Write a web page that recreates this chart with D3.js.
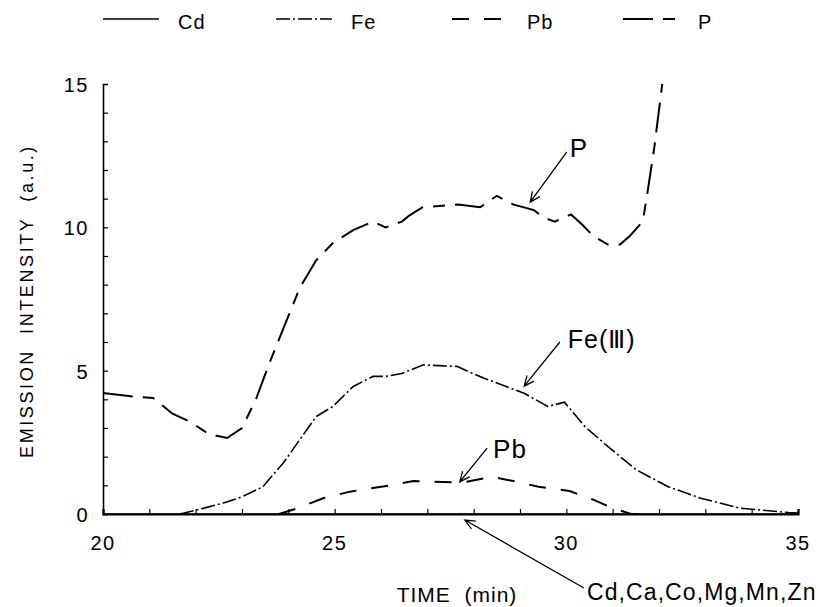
<!DOCTYPE html>
<html>
<head>
    <meta charset="utf-8">
    <script src="https://d3js.org/d3.v7.min.js"></script>
    <style>
        body { margin: 0; background: #fff; }
        text { font-family: "Liberation Sans", Arial, sans-serif; fill: #000; }
    </style>
</head>
<body>
    <div id="chart"></div>
    <script>
        // data
        const pTime  = [20, 20.73, 21.08, 21.5, 21.9, 22.27, 22.68, 23.0, 23.3, 23.6, 23.9, 24.25, 24.6, 24.96, 25.4, 25.83, 26.1, 26.45, 26.6, 26.9, 27.66, 28.14, 28.5, 28.85, 29.3, 29.5, 29.75, 30.1, 30.34, 30.58, 30.9, 31.16, 31.37, 31.65, 31.74, 31.9, 32.07];
        const pValue = [4.22, 4.08, 4.05, 3.5, 3.2, 2.8, 2.65, 3.0, 4.0, 5.3, 6.5, 7.9, 8.85, 9.45, 9.9, 10.2, 10.0, 10.2, 10.4, 10.7, 10.8, 10.7, 11.1, 10.8, 10.6, 10.35, 10.2, 10.45, 10.1, 9.7, 9.4, 9.4, 9.7, 10.2, 11.1, 12.8, 15.0];

        const feTime  = [21.66, 22.1, 22.6, 23.0, 23.45, 23.9, 24.25, 24.6, 24.96, 25.4, 25.83, 26.1, 26.45, 26.9, 27.64, 28.2, 28.7, 29.1, 29.6, 29.96, 30.4, 30.9, 31.5, 32.2, 32.9, 33.76, 34.8, 35];
        const feValue = [0, 0.17, 0.38, 0.6, 0.95, 1.8, 2.6, 3.4, 3.75, 4.45, 4.8, 4.8, 4.9, 5.2, 5.15, 4.75, 4.45, 4.2, 3.75, 3.9, 3.05, 2.35, 1.55, 0.95, 0.55, 0.2, 0.05, 0.03];

        const pbTime  = [23.8, 24.2, 24.75, 25.33, 26.2, 26.7, 27.77, 28.4, 29.0, 29.4, 30.07, 30.58, 31.0, 31.4, 31.8];
        const pbValue = [0, 0.2, 0.55, 0.78, 1.0, 1.15, 1.1, 1.3, 1.1, 0.95, 0.8, 0.5, 0.2, 0.0, 0];

        const cdTime  = [20, 35];
        const cdValue = [0, 0];

        const xTicks = [20, 25, 30, 35];
        const yTicks = [0, 5, 10, 15];

        const legendNames = ["Cd", "Fe", "Pb", "P"];

        // annotation labels with arrow tail/head in data units
        const noteText = ["P", "Fe(\u2162)", "Pb", "Cd,Ca,Co,Mg,Mn,Zn"];
        const noteTail = [[30.01, 12.63], [29.86, 6.0], [28.29, 2.3], [30.38, -2.58]];
        const noteHead = [[29.22, 10.88], [29.09, 4.46], [27.7, 1.12], [27.81, -0.21]];

        const W = 820, H = 607;
        const margin = { top: 84, left: 103, right: 22, bottom: 93 };
        const width = W - margin.left - margin.right, height = H - margin.top - margin.bottom;

        const svg = d3.select("#chart").append("svg")
            .attr("width", W).attr("height", H);
        const g = svg.append("g").attr("transform", `translate(${margin.left},${margin.top})`);

        const x = d3.scaleLinear().domain([20, 35]).range([0, width]);
        const y = d3.scaleLinear().domain([0, 15]).range([height, 0]);

        // line styles
        const styles = {
            Cd: { dash: null, w: 1.6 },
            Fe: { dash: "14,3,2,3", w: 1.6 },
            Pb: { dash: "17,15", w: 2 },
            P:  { dash: "30,10,12,10", w: 2 }
        };

        // axes: inward minor ticks every 1 unit
        const xAxis = g.append("g").attr("transform", `translate(0,${height})`)
            .call(d3.axisBottom(x).tickValues(d3.range(20, 36)).tickSize(-5).tickFormat(""));
        xAxis.select(".domain").attr("stroke-width", 2.2);
        const yAxis = g.append("g")
            .call(d3.axisLeft(y).tickValues(d3.range(0, 16)).tickSize(-5).tickFormat(""));
        yAxis.select(".domain").attr("stroke-width", 1.6);
        g.selectAll(".tick line").attr("stroke-width", 1.2);

        g.selectAll(".xlab").data(xTicks).enter().append("text")
            .attr("x", d => x(d)).attr("y", height + 36)
            .attr("text-anchor", "middle")
            .style("font-size", "20px").style("letter-spacing", "1.5px")
            .text(d => d);
        g.selectAll(".ylab").data(yTicks).enter().append("text")
            .attr("x", -14).attr("y", d => y(d) + 8)
            .attr("text-anchor", "end")
            .style("font-size", "20px").style("letter-spacing", "1.5px")
            .text(d => d);

        // axis titles
        g.append("text")
            .attr("x", 354).attr("y", height + 88)
            .attr("text-anchor", "middle")
            .style("font-size", "21px").style("letter-spacing", "1px")
            .attr("xml:space", "preserve")
            .text("TIME  (min)");
        g.append("text")
            .attr("transform", `translate(${-margin.left + 33},${y(7.5) + 2}) rotate(-90)`)
            .attr("text-anchor", "middle")
            .style("font-size", "18px").style("letter-spacing", "2.6px")
            .attr("xml:space", "preserve")
            .text("EMISSION  INTENSITY  (a.u.)");

        // series
        const line = d3.line().x(d => x(d[0])).y(d => y(d[1]));
        const series = [
            { name: "Cd", pts: d3.zip(cdTime, cdValue) },
            { name: "Pb", pts: d3.zip(pbTime, pbValue) },
            { name: "Fe", pts: d3.zip(feTime, feValue) },
            { name: "P",  pts: d3.zip(pTime, pValue) }
        ];
        g.selectAll(".series").data(series).enter().append("path")
            .attr("d", d => line(d.pts))
            .attr("fill", "none").attr("stroke", "#000")
            .attr("stroke-width", d => styles[d.name].w)
            .attr("stroke-dasharray", d => styles[d.name].dash);

        // annotations
        function arrow(t0, t1) {
            const x0 = x(t0[0]), y0 = y(t0[1]), x1 = x(t1[0]), y1 = y(t1[1]);
            const a = Math.atan2(y0 - y1, x0 - x1), L = 11, s = 0.42;
            g.append("path")
                .attr("d", `M${x0},${y0}L${x1},${y1}` +
                    `M${x1 + L * Math.cos(a - s)},${y1 + L * Math.sin(a - s)}L${x1},${y1}` +
                    `L${x1 + L * Math.cos(a + s)},${y1 + L * Math.sin(a + s)}`)
                .attr("fill", "none").attr("stroke", "#000").attr("stroke-width", 1.3);
        }
        noteText.forEach((t, i) => arrow(noteTail[i], noteHead[i]));

        const noteSize = ["26px", "25px", "26px", "23px"];
        const noteSpacing = ["0px", "1px", "1px", "1.1px"];
        const noteDx = [3, 8, 6, 3];
        const noteDy = [5, 6, 10, 12];
        noteText.forEach((t, i) => {
            g.append("text")
                .attr("x", x(noteTail[i][0]) + noteDx[i])
                .attr("y", y(noteTail[i][1]) + noteDy[i])
                .style("font-size", noteSize[i]).style("letter-spacing", noteSpacing[i])
                .text(t);
        });

        // legend
        const legendX = [103, 276, 452, 623];
        const legend = svg.append("g");
        legendNames.forEach((n, i) => {
            legend.append("line")
                .attr("x1", legendX[i]).attr("x2", legendX[i] + 56)
                .attr("y1", 19).attr("y2", 19)
                .attr("stroke", "#000").attr("stroke-width", styles[n].w)
                .attr("stroke-dasharray", styles[n].dash);
            legend.append("text")
                .attr("x", legendX[i] + 75).attr("y", 29)
                .style("font-size", "20px").style("letter-spacing", "1px")
                .text(n);
        });
    </script>
</body>
</html>
